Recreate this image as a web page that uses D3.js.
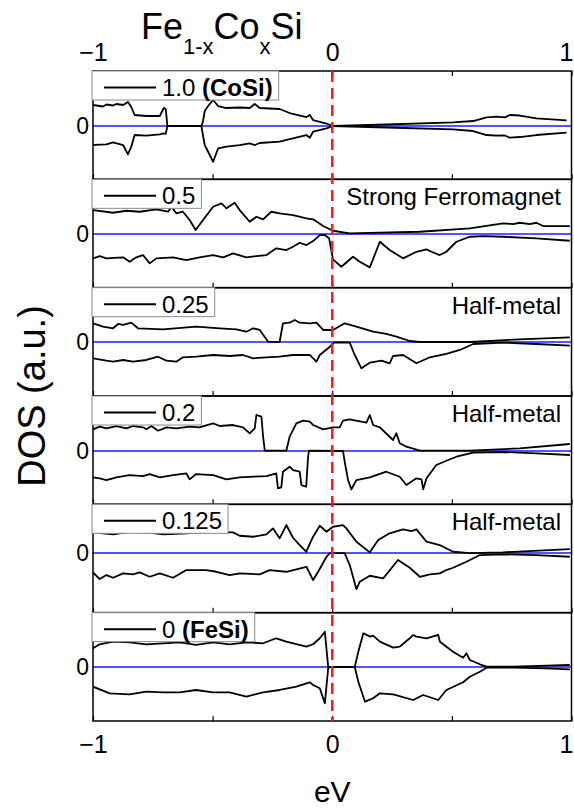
<!DOCTYPE html>
<html><head><meta charset="utf-8">
<script src="https://cdn.jsdelivr.net/npm/d3@7"></script>
<style>
html,body{margin:0;padding:0;background:#fff;}
svg{display:block;font-family:"Liberation Sans",Arial,Helvetica,sans-serif;}
</style>
</head><body>
<svg id="c" width="574" height="809"></svg>
<script>
// ---------- DATA ----------
const energyTicks = [-1, -0.5, 0, 0.5, 1];
const energyLabelTicks = [-1, 0, 1];
const xLabels = ["1.0", "0.5", "0.25", "0.2", "0.125", "0"];
const tags = ["(CoSi)", "", "", "", "", "(FeSi)"];
const notes = ["", "Strong Ferromagnet", "Half-metal", "Half-metal", "Half-metal", ""];
const yRanges = [[-53.3, 55], [-53.6, 54.7], [-54, 54.3], [-53.3, 55], [-59.6, 48.7], [-54, 54.3]];
const titleParts = [["Fe", false], ["1-x", true], ["Co", false], ["x", true], ["Si", false]];
const yTitle = "DOS (a.u.)";
const xTitle = "eV";

// x = 1.0 (CoSi)
const up10 = [[-1.000,21],[-0.972,20],[-0.958,19.5],[-0.944,21.5],[-0.930,21],[-0.916,20.5],[-0.902,22],[-0.874,21],[-0.854,24],[-0.840,19],[-0.826,11],[-0.777,10],[-0.721,10],[-0.704,18],[-0.696,17],[-0.689,0],[-0.547,0],[-0.540,5],[-0.533,15],[-0.519,20],[-0.498,26],[-0.477,20],[-0.442,18],[-0.387,18.5],[-0.345,18],[-0.324,22],[-0.303,18],[-0.220,17],[-0.178,13],[-0.108,9],[-0.094,11],[-0.080,6],[-0.024,2.5],[0.003,0],[0.226,1.5],[0.505,3.7],[0.589,5],[0.645,8.7],[0.686,9.3],[0.721,8.7],[0.742,11],[0.784,10.5],[0.853,7.7],[0.979,5.7]];
const dn10 = [[-1.000,-19],[-0.972,-18.7],[-0.944,-18.3],[-0.916,-16.3],[-0.874,-19],[-0.854,-28.3],[-0.840,-20.7],[-0.826,-9],[-0.777,-9.7],[-0.721,-8.3],[-0.704,-7.3],[-0.696,-8],[-0.689,0],[-0.547,0],[-0.540,-10],[-0.533,-19],[-0.519,-25.7],[-0.498,-35.7],[-0.477,-22.3],[-0.442,-20.7],[-0.387,-19],[-0.345,-17.3],[-0.324,-19],[-0.303,-17],[-0.220,-15.7],[-0.178,-13],[-0.108,-9],[-0.094,-11.7],[-0.080,-5.7],[-0.024,-2.3],[0.003,0],[0.226,-1.5],[0.505,-3.3],[0.589,-5],[0.645,-9],[0.686,-9.7],[0.721,-9.5],[0.742,-11.7],[0.784,-11],[0.853,-9],[0.979,-6.7]];

// x = 0.5
const up05 = [[-1.000,24],[-0.916,21.3],[-0.860,23.3],[-0.805,22.3],[-0.735,24.7],[-0.686,22.3],[-0.672,27.3],[-0.652,20.7],[-0.624,22.3],[-0.596,14],[-0.571,4],[-0.540,14],[-0.498,27.3],[-0.463,30.7],[-0.442,25.7],[-0.408,31.3],[-0.387,24],[-0.345,12.3],[-0.317,17.3],[-0.289,14.7],[-0.255,22.3],[-0.220,20.7],[-0.164,19],[-0.108,15.7],[-0.080,14.7],[-0.038,8],[0.003,3.3],[0.073,0.7],[0.366,2.3],[0.575,5.7],[0.714,10.7],[0.756,10],[0.784,11.3],[0.826,10],[0.853,11.3],[0.881,8],[0.993,8]];
const dn05 = [[-1.000,-24.3],[-0.972,-22],[-0.944,-24.3],[-0.874,-23.3],[-0.847,-27.7],[-0.819,-23.3],[-0.791,-21],[-0.763,-29.3],[-0.735,-24.3],[-0.665,-23.3],[-0.610,-26],[-0.555,-23.3],[-0.498,-21],[-0.456,-23.3],[-0.415,-19.3],[-0.359,-23.3],[-0.317,-22],[-0.275,-21],[-0.234,-14.3],[-0.192,-16],[-0.164,-12.7],[-0.136,-8.7],[-0.108,-11],[-0.080,-7],[-0.052,-1],[-0.031,-1],[-0.013,-4.3],[0.003,-25.3],[0.038,-32.7],[0.087,-22.7],[0.115,-27.7],[0.157,-33.3],[0.199,-7.7],[0.240,-16],[0.296,-24.3],[0.352,-17.7],[0.394,-15.3],[0.415,-17.7],[0.449,-21],[0.477,-17.7],[0.519,-7.7],[0.575,-2.7],[0.631,-2],[0.714,-2.7],[0.853,-4.3],[0.993,-6.7]];

// x = 0.25
const up025 = [[-1.000,18.7],[-0.958,15.3],[-0.916,13.7],[-0.895,18],[-0.874,17],[-0.840,19.3],[-0.812,13.7],[-0.707,12.7],[-0.569,15.3],[-0.470,13.7],[-0.401,12.7],[-0.359,10.3],[-0.331,13.7],[-0.303,12],[-0.268,0.3],[-0.220,0],[-0.206,18.7],[-0.178,19.3],[-0.157,22],[-0.136,19.3],[-0.094,18.7],[-0.066,19.3],[-0.038,12],[0.003,12],[0.052,18.7],[0.101,15.3],[0.171,10.3],[0.226,8],[0.268,5.3],[0.324,1],[0.366,0],[0.575,0],[0.784,2.7],[0.993,4.7]];
const dn025 = [[-1.000,-16.3],[-0.944,-18.7],[-0.916,-19.7],[-0.874,-18],[-0.833,-19.7],[-0.777,-18],[-0.728,-14.7],[-0.693,-18.7],[-0.652,-19.7],[-0.624,-15.3],[-0.569,-14.7],[-0.498,-13],[-0.429,-14],[-0.373,-13],[-0.331,-16.3],[-0.275,-15.3],[-0.220,-14.7],[-0.164,-13],[-0.094,-13],[-0.066,-19.7],[-0.052,-13],[-0.010,-4.7],[0.010,-0.3],[0.073,-0.7],[0.094,-13],[0.122,-26.3],[0.157,-20.7],[0.206,-18.7],[0.240,-21.3],[0.254,-14],[0.296,-13],[0.352,-21.3],[0.408,-15.3],[0.477,-12],[0.533,-8],[0.589,-2],[0.714,-0.7],[0.853,-2],[0.993,-3.7]];

// x = 0.2
const up02 = [[-1.000,21.7],[-0.972,24.3],[-0.944,22.7],[-0.902,25],[-0.860,22.7],[-0.833,25],[-0.791,23.7],[-0.777,21.7],[-0.756,25],[-0.728,20.3],[-0.693,23.7],[-0.652,22.7],[-0.596,24.3],[-0.555,23.7],[-0.498,27.7],[-0.470,25],[-0.415,26],[-0.373,23.7],[-0.345,17.7],[-0.324,22.7],[-0.317,36],[-0.296,34.3],[-0.289,14.3],[-0.282,0.3],[-0.192,0.3],[-0.178,14.3],[-0.150,27.7],[-0.122,30.3],[-0.094,29.3],[-0.080,26],[-0.038,21.7],[0.003,23.7],[0.031,23.7],[0.045,30.3],[0.073,31.7],[0.143,28.3],[0.157,36],[0.171,26],[0.199,23.7],[0.254,11],[0.268,17.7],[0.282,7.7],[0.310,4.3],[0.366,0.3],[0.575,0.3],[0.784,2.7],[0.993,7]];
const dn02 = [[-1.000,-26.3],[-0.972,-27.3],[-0.944,-29],[-0.902,-26.3],[-0.847,-24],[-0.791,-25],[-0.763,-23],[-0.721,-26.3],[-0.665,-24],[-0.610,-22.3],[-0.596,-28.3],[-0.569,-23],[-0.498,-24],[-0.442,-28.3],[-0.387,-26.3],[-0.331,-25.7],[-0.275,-25],[-0.234,-22.3],[-0.227,-37.3],[-0.213,-36.3],[-0.206,-20.7],[-0.178,-15.7],[-0.164,-19],[-0.136,-20.7],[-0.129,-34],[-0.109,-35.7],[-0.101,-5.7],[-0.097,0.3],[0.045,0],[0.052,-10.7],[0.066,-29],[0.080,-38.3],[0.101,-29],[0.157,-26.3],[0.226,-20.7],[0.282,-25.7],[0.310,-34],[0.352,-27.3],[0.373,-28.3],[0.380,-38.3],[0.394,-27.3],[0.435,-14],[0.477,-9.7],[0.519,-5.7],[0.589,-1.7],[0.714,-1],[0.853,-2.3],[0.993,-4]];

// x = 0.125
const up0125 = [[-1.000,20.7],[-0.916,18.7],[-0.847,21.3],[-0.777,20.7],[-0.707,18.7],[-0.610,19.7],[-0.498,21.3],[-0.415,20.7],[-0.387,17.3],[-0.331,16.3],[-0.275,18.7],[-0.248,24.7],[-0.220,14.7],[-0.192,28],[-0.164,15.3],[-0.136,8],[-0.109,1.3],[-0.080,16.3],[-0.052,27.3],[-0.024,21.3],[0.003,26.3],[0.045,28],[0.059,24.7],[0.101,11.3],[0.157,0.7],[0.192,13],[0.240,19.7],[0.296,23.7],[0.331,22],[0.352,23.7],[0.394,11.3],[0.449,8],[0.505,1.3],[0.575,0],[0.714,0.7],[0.993,4]];
const dn0125 = [[-1.000,-19.3],[-0.972,-26],[-0.944,-22],[-0.916,-24.7],[-0.874,-20.3],[-0.833,-21.3],[-0.805,-19.3],[-0.763,-23.7],[-0.721,-20.3],[-0.665,-24.7],[-0.610,-17],[-0.527,-17],[-0.484,-18.7],[-0.429,-22],[-0.387,-20.3],[-0.303,-21.3],[-0.262,-17],[-0.192,-18.7],[-0.108,-13.7],[-0.080,-27],[-0.059,-18.7],[-0.024,-3.7],[-0.010,0],[0.052,0],[0.073,-12],[0.101,-36],[0.115,-28.7],[0.157,-22.7],[0.213,-25.3],[0.275,-7],[0.324,-14.7],[0.366,-23.7],[0.408,-21.3],[0.449,-20.3],[0.477,-17],[0.505,-14.7],[0.561,-8.7],[0.617,-2],[0.714,-1.3],[0.853,-2],[0.993,-3.7]];

// x = 0 (FeSi)
const up00 = [[-1.000,18.7],[-0.972,22.7],[-0.916,25.3],[-0.847,24.7],[-0.777,22.7],[-0.707,23.7],[-0.638,24.7],[-0.569,22],[-0.498,24.7],[-0.429,22.7],[-0.359,24.7],[-0.289,23.7],[-0.234,28.7],[-0.192,25.3],[-0.108,20.3],[-0.080,22.7],[-0.052,28.7],[-0.031,35.3],[-0.017,0.3],[0.094,0],[0.109,15.3],[0.130,33.7],[0.158,30.3],[0.171,31.3],[0.199,25.3],[0.255,19.3],[0.282,20.3],[0.324,28.7],[0.338,32],[0.352,30.3],[0.394,28.7],[0.443,32],[0.450,25.3],[0.505,15.3],[0.547,9.3],[0.561,13.7],[0.575,7],[0.617,2.7],[0.645,0.3],[0.756,0.3],[0.895,1.3],[0.993,2]];
const dn00 = [[-1.000,-19.7],[-0.930,-26.3],[-0.847,-27.3],[-0.777,-24.7],[-0.707,-25.3],[-0.638,-25.3],[-0.569,-23],[-0.498,-25.3],[-0.429,-25.3],[-0.359,-29.7],[-0.289,-25.3],[-0.220,-23],[-0.150,-19.7],[-0.094,-15.3],[-0.080,-18],[-0.052,-21.3],[-0.031,-36.3],[-0.017,-1.3],[-0.010,0],[0.094,0],[0.109,-14.7],[0.137,-34.7],[0.171,-31.3],[0.199,-26.3],[0.255,-27.3],[0.338,-33],[0.380,-28],[0.443,-33],[0.477,-23],[0.547,-15.3],[0.575,-9.7],[0.617,-4.7],[0.645,-0.7],[0.756,-0.7],[0.895,-1.3],[0.993,-2.3]];

const spinUp = [up10, up05, up025, up02, up0125, up00];
const spinDown = [dn10, dn05, dn025, dn02, dn0125, dn00];

// ---------- DRAW ----------
const plot = {left: 93, right: 571.5, top: 71, bottom: 721};
const nP = xLabels.length;
const ph = (plot.bottom - plot.top) / nP;
const svg = d3.select("#c");
const defs = svg.append("defs");
const x = d3.scaleLinear().domain([-1, 1]).range([plot.left, plot.right]);
const FONT = "Liberation Sans, Arial, sans-serif";

function styleTickLabels(sel) {
  sel.selectAll("text").attr("font-size", 25).attr("fill", "#000").attr("font-family", FONT)
    .attr("text-anchor", d => d === 1 ? "end" : "middle")
    .attr("dx", d => d === 1 ? 1.5 : 0);
}

const panelGroups = [];
for (let i = 0; i < nP; i++) {
  const top = plot.top + i * ph;
  const y = d3.scaleLinear().domain(yRanges[i]).range([top + ph, top]);
  const g = svg.append("g");
  defs.append("clipPath").attr("id", "clip" + i).append("rect")
    .attr("x", plot.left).attr("y", top).attr("width", plot.right - plot.left).attr("height", ph);
  const cg = g.append("g").attr("clip-path", `url(#clip${i})`);
  cg.append("line").attr("x1", x(-1)).attr("x2", x(1)).attr("y1", y(0)).attr("y2", y(0))
    .attr("stroke", "#1a1aff").attr("stroke-width", 1.6);
  const line = d3.line().x(d => x(d[0])).y(d => y(d[1]));
  [spinUp[i], spinDown[i]].forEach(s => {
    cg.append("path").datum(s).attr("d", line).attr("fill", "none")
      .attr("stroke", "#000").attr("stroke-width", 1.8).attr("stroke-linejoin", "round");
  });
  // frame
  g.append("rect").attr("x", plot.left).attr("y", top).attr("width", plot.right - plot.left).attr("height", ph)
    .attr("fill", "none").attr("stroke", "#000").attr("stroke-width", 1.5);
  // bottom ticks (inward)
  const isLast = i === nP - 1;
  const axB = d3.axisBottom(x).tickValues(energyTicks).tickSizeInner(-5).tickSizeOuter(0)
    .tickPadding(14).tickFormat(d => (isLast && energyLabelTicks.includes(d)) ? d3.format("d")(d) : "");
  const gb = g.append("g").attr("transform", `translate(0,${top + ph})`).call(axB);
  gb.select(".domain").remove();
  gb.selectAll("line").attr("stroke", "#000").attr("stroke-width", 1.2);
  styleTickLabels(gb);
  if (i === 0) {
    const axT = d3.axisTop(x).tickValues(energyTicks).tickSizeInner(-5).tickSizeOuter(0)
      .tickPadding(10).tickFormat(d => energyLabelTicks.includes(d) ? d3.format("d")(d) : "");
    const gt = g.append("g").attr("transform", `translate(0,${top})`).call(axT);
    gt.select(".domain").remove();
    gt.selectAll("line").attr("stroke", "#000").attr("stroke-width", 1.2);
    styleTickLabels(gt);
  }
  // y zero label
  const axL = d3.axisLeft(y).tickValues([0]).tickSizeInner(0).tickSizeOuter(0).tickPadding(4).tickFormat(d3.format("d"));
  const gl = g.append("g").attr("transform", `translate(${plot.left},0)`).call(axL);
  gl.select(".domain").remove();
  gl.selectAll("text").attr("font-size", 23).attr("fill", "#000").attr("font-family", FONT);
  panelGroups.push({g, top, y});
}

// red dashed Fermi line
svg.append("line").attr("x1", x(0)).attr("x2", x(0)).attr("y1", plot.top).attr("y2", plot.bottom)
  .attr("stroke", "#ff1a1a").attr("stroke-width", 2.5).attr("stroke-dasharray", "11,6");

// legends & notes
panelGroups.forEach((p, i) => {
  const lg = p.g.append("g");
  const box = lg.append("rect").attr("x", 92).attr("y", p.top).attr("height", 29)
    .attr("fill", "#fff").attr("stroke", "#8a8a8a").attr("stroke-width", 1);
  lg.append("line").attr("x1", 104).attr("x2", 156).attr("y1", p.top + 16.5).attr("y2", p.top + 16.5)
    .attr("stroke", "#000").attr("stroke-width", 2);
  const t = lg.append("text").attr("x", 162).attr("y", p.top + 25).attr("font-size", 24).attr("fill", "#000");
  t.append("tspan").text(xLabels[i] + (tags[i] ? " " : ""));
  if (tags[i]) t.append("tspan").attr("font-weight", "bold").text(tags[i]);
  const bb = t.node().getBBox();
  box.attr("width", bb.x + bb.width + 6 - 92);
  if (notes[i]) {
    p.g.append("text").attr("x", 561).attr("y", p.top + 26).attr("text-anchor", "end")
      .attr("font-size", 24).attr("fill", "#000").text(notes[i]);
  }
});

// title
const title = svg.append("text").attr("x", 141).attr("y", 39).attr("fill", "#000");
let prevSub = false;
titleParts.forEach(([s, sub]) => {
  const ts = title.append("tspan").text(s).attr("font-size", sub ? 22 : 36);
  if (sub !== prevSub) ts.attr("dy", sub ? 15 : -15);
  prevSub = sub;
});

// axis titles
svg.append("text").attr("transform", `translate(45,${(plot.top + plot.bottom) / 2}) rotate(-90)`)
  .attr("text-anchor", "middle").attr("font-size", 38).attr("fill", "#000").text(yTitle);
svg.append("text").attr("x", x(0)).attr("y", 802).attr("text-anchor", "middle")
  .attr("font-size", 30).attr("fill", "#000").text(xTitle);
</script>
</body></html>
